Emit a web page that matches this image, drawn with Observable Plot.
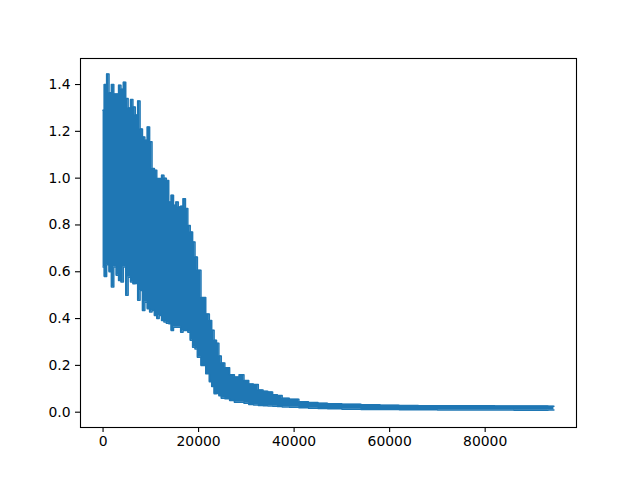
<!DOCTYPE html>
<html>
<head>
<meta charset="utf-8">
<script src="https://cdn.jsdelivr.net/npm/d3@7"></script>
<script src="https://cdn.jsdelivr.net/npm/@observablehq/plot@0.6"></script>
<style>
  html, body { margin: 0; padding: 0; background: white; }
</style>
</head>
<body>
<div id="chart"></div>
<script>
// Training step (x) and envelope of the noisy series
const steps = [
  0, 500, 1000, 1500, 2000, 2500, 3000, 3500, 4000, 4500,
  5000, 5500, 6000, 6500, 7000, 7500, 8000, 8500, 9000, 9500,
  10000, 10500, 11000, 11500, 12000, 12500, 13000, 13500, 14000, 14500,
  15000, 15500, 16000, 16500, 17000, 17500, 18000, 18500, 19000, 19500,
  20000, 21000, 22000, 22500, 23000, 23500, 24000, 24500, 25000, 26000,
  27000, 28000, 29000, 30000, 31000, 32000, 33000, 34000, 35000, 36000,
  37000, 38000, 40000, 42000, 44000, 46000, 48000, 52000, 56000, 60000,
  64000, 68000, 72000, 76000, 80000, 84000, 88000, 92000, 94400
];
const upper = [
  1.29, 1.40, 1.445, 1.365, 1.40, 1.36, 1.36, 1.397, 1.38, 1.41,
  1.34, 1.30, 1.336, 1.304, 1.27, 1.33, 1.21, 1.176, 1.162, 1.219,
  1.155, 1.041, 1.034, 0.998, 0.998, 1.012, 1.0, 0.99, 0.898, 0.927,
  0.884, 0.898, 0.877, 0.88, 0.912, 0.87, 0.798, 0.77, 0.727, 0.663,
  0.606, 0.49, 0.42, 0.392, 0.35, 0.307, 0.295, 0.24, 0.21, 0.19,
  0.16, 0.15, 0.16, 0.135, 0.12, 0.118, 0.095, 0.09, 0.086, 0.075,
  0.071, 0.06, 0.055, 0.045, 0.041, 0.038, 0.036, 0.034, 0.032, 0.03,
  0.029, 0.028, 0.027, 0.027, 0.027, 0.026, 0.026, 0.026, 0.025
];
const lower = [
  0.62, 0.58, 0.63, 0.60, 0.535, 0.62, 0.585, 0.563, 0.556, 0.62,
  0.50, 0.577, 0.556, 0.549, 0.55, 0.478, 0.52, 0.435, 0.47, 0.442,
  0.428, 0.435, 0.413, 0.40, 0.413, 0.392, 0.385, 0.38, 0.378, 0.349,
  0.363, 0.363, 0.363, 0.342, 0.349, 0.349, 0.342, 0.307, 0.278, 0.27,
  0.235, 0.20, 0.164, 0.13, 0.11, 0.079, 0.08, 0.07, 0.06, 0.057,
  0.05, 0.043, 0.042, 0.038, 0.033, 0.031, 0.029, 0.028, 0.026, 0.025,
  0.024, 0.022, 0.021, 0.019, 0.017, 0.016, 0.015, 0.013, 0.012, 0.011,
  0.010, 0.010, 0.009, 0.009, 0.009, 0.009, 0.008, 0.008, 0.009
];
const xTicks = [0, 20000, 40000, 60000, 80000];
const yTicks = [0.0, 0.2, 0.4, 0.6, 0.8, 1.0, 1.2, 1.4];

const table = steps.map((s, i) => ({step: s, hi: upper[i], lo: lower[i]}));
const blue = "#1f77b4";

const chart = Plot.plot({
  width: 640,
  height: 480,
  marginLeft: 80,
  marginRight: 64,
  marginTop: 58,
  marginBottom: 53,
  style: {fontFamily: "DejaVu Sans", fontSize: "13.9px", background: "white", color: "black"},
  x: {domain: [-4722, 99122], label: null},
  y: {domain: [-0.0654, 1.5112], label: null},
  marks: [
    Plot.areaY(table, {x: "step", y1: "lo", y2: "hi", fill: blue, curve: "step"}),
    Plot.lineY(table, {x: "step", y: "hi", stroke: blue, strokeWidth: 1.5, curve: "step"}),
    Plot.lineY(table, {x: "step", y: "lo", stroke: blue, strokeWidth: 1.5, curve: "step"}),
    Plot.axisX(xTicks, {tickSize: 5, tickPadding: 4, tickFormat: d => String(d), strokeWidth: 1.1, label: null}),
    Plot.axisY(yTicks, {tickSize: 5, tickPadding: 5, tickFormat: d => d.toFixed(1), strokeWidth: 1.1, label: null}),
    Plot.frame({stroke: "black", strokeWidth: 1.1})
  ]
});
document.getElementById("chart").appendChild(chart);
</script>
</body>
</html>
